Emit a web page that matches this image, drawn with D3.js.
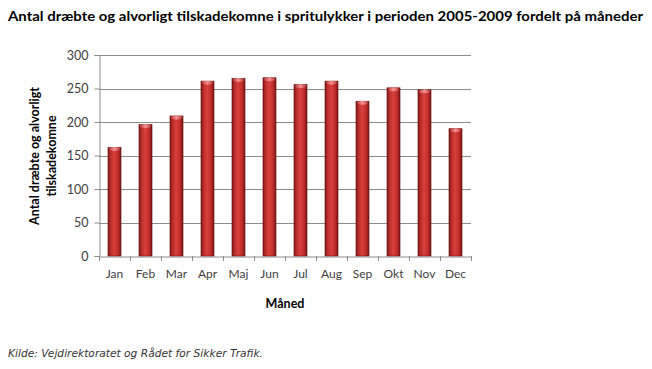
<!DOCTYPE html>
<html><head><meta charset="utf-8">
<script src="https://cdn.jsdelivr.net/npm/d3@7"></script>
<style>body{margin:0;background:#fff}svg{display:block}</style>
</head><body>
<script>
const months = ["Jan","Feb","Mar","Apr","Maj","Jun","Jul","Aug","Sep","Okt","Nov","Dec"];
const values = [162,196,209,261,265,266,256,261,231,251,248,190];
const yTicks = [0,50,100,150,200,250,300];
const title = "Antal dræbte og alvorligt tilskadekomne i spritulykker i perioden 2005-2009 fordelt på måneder";
const yTitle = ["Antal dræbte og alvorligt","tilskadekomne"];
const xTitle = "Måned";
const source = "Kilde: Vejdirektoratet og Rådet for Sikker Trafik.";

const W=652,H=369;
const svg=d3.select("body").append("svg").attr("width",W).attr("height",H);
const font="Lato, 'Open Sans', sans-serif";
const pL=99,pR=471,pT=55,pB=256;
const x=d3.scaleBand().domain(months).range([pL,pR]).paddingInner(0.58).paddingOuter(0.29);
const y=d3.scaleLinear().domain([0,300]).range([pB,pT]);

const defs=svg.append("defs");
const g=defs.append("linearGradient").attr("id","bar").attr("x1",0).attr("x2",1).attr("y1",0).attr("y2",0);
[[0,"#7a1515"],[0.15,"#b02a28"],[0.45,"#d8403c"],[0.7,"#c8332f"],[0.9,"#9e2020"],[1,"#6e1212"]].forEach(([o,c])=>g.append("stop").attr("offset",o).attr("stop-color",c));
const cap=defs.append("linearGradient").attr("id","cap").attr("x1",0).attr("x2",1);
[[0,"#c04040"],[0.5,"#f59090"],[1,"#c04040"]].forEach(([o,c])=>cap.append("stop").attr("offset",o).attr("stop-color",c));

// gridlines
svg.append("g").selectAll("line").data(yTicks.filter(d=>d>0)).join("line")
 .attr("x1",pL).attr("x2",pR).attr("y1",d=>Math.round(y(d))+0.5).attr("y2",d=>Math.round(y(d))+0.5)
 .attr("stroke","#8c8c8c").attr("stroke-width",1);

// y axis
const ya=svg.append("g").attr("transform",`translate(${pL+0.5},0)`).call(d3.axisLeft(y).tickValues(yTicks).tickSize(5).tickPadding(6));
ya.select(".domain").attr("stroke","#8c8c8c");
ya.selectAll(".tick line").attr("stroke","#8c8c8c");
ya.selectAll("text").attr("font-family",font).attr("font-size",12.5).attr("fill","#404040");

// x axis
const xa=svg.append("g").attr("transform",`translate(0,${pB+0.5})`).call(d3.axisBottom(x).tickSize(0).tickPadding(13));
xa.select(".domain").attr("stroke","#8c8c8c");
xa.selectAll("text").attr("font-family",font).attr("font-size",12).attr("fill","#404040");
const step=x.step();
svg.append("g").selectAll("line").data(d3.range(13)).join("line")
 .attr("x1",i=>Math.round(pL+i*step)+0.5).attr("x2",i=>Math.round(pL+i*step)+0.5)
 .attr("y1",pB).attr("y2",pB+5).attr("stroke","#8c8c8c");

// bars
const bars=svg.append("g");
bars.selectAll("rect").data(values).join("rect")
 .attr("x",(d,i)=>x(months[i])).attr("width",x.bandwidth())
 .attr("y",d=>y(d)).attr("height",d=>pB-y(d))
 .attr("fill","url(#bar)").attr("stroke","#6a1010").attr("stroke-width",0.6);
bars.selectAll("ellipse").data(values).join("ellipse")
 .attr("cx",(d,i)=>x(months[i])+x.bandwidth()/2).attr("cy",d=>y(d)+1.5)
 .attr("rx",x.bandwidth()/2-1).attr("ry",2)
 .attr("fill","url(#cap)");

// titles
svg.append("text").attr("x",8).attr("y",21).attr("font-family",font).attr("font-weight","bold")
 .attr("font-size",14).attr("fill","#000").text(title).attr("textLength",635).attr("lengthAdjust","spacingAndGlyphs");
const yt=svg.append("text").attr("transform","translate(39,156) rotate(-90)").attr("text-anchor","middle")
 .attr("font-family",font).attr("font-weight","bold").attr("font-size",12.5).attr("fill","#000");
yt.selectAll("tspan").data(yTitle).join("tspan").attr("x",0).attr("dy",(d,i)=>i?17:0).text(d=>d);
svg.append("text").attr("x",285).attr("y",308).attr("text-anchor","middle").attr("font-family",font)
 .attr("font-weight","bold").attr("font-size",12.5).attr("fill","#000").text(xTitle);
svg.append("text").attr("x",8).attr("y",357).attr("font-family","'DejaVu Sans', sans-serif").attr("font-style","italic")
 .attr("font-size",10).attr("fill","#333").text(source).attr("textLength",255).attr("lengthAdjust","spacingAndGlyphs");
</script>
</body></html>
